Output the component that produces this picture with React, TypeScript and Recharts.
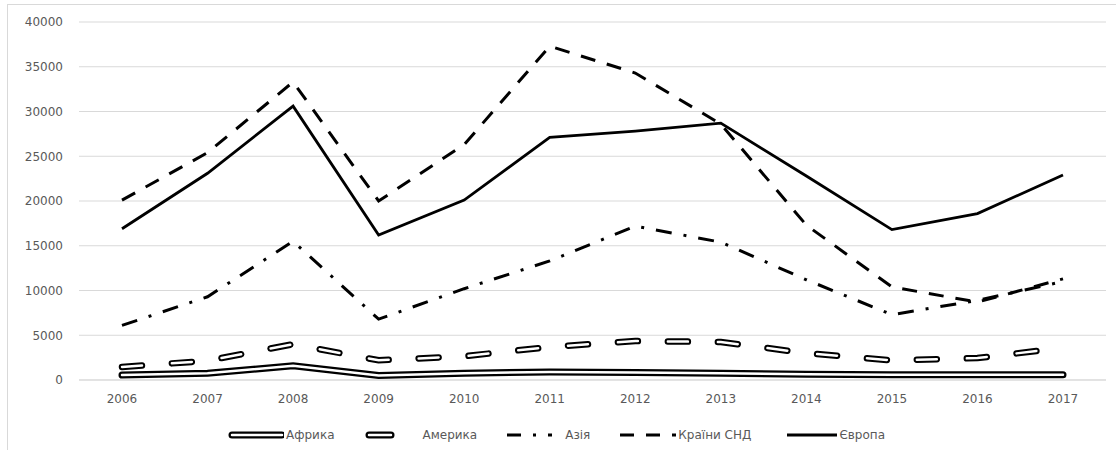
import { LineChart, Line, XAxis, YAxis, CartesianGrid, Legend } from "recharts";

const years = ["2006", "2007", "2008", "2009", "2010", "2011", "2012", "2013", "2014", "2015", "2016", "2017"];
const afrika = [550, 750, 1600, 500, 750, 900, 850, 750, 650, 600, 600, 600];
const amerika = [1450, 2150, 4000, 2200, 2650, 3700, 4350, 4250, 3000, 2200, 2450, 3600];
const aziya = [6100, 9300, 15500, 6800, 10200, 13300, 17200, 15400, 11200, 7300, 8900, 11000];
const snd = [20100, 25400, 33300, 20000, 26300, 37300, 34300, 28600, 17300, 10400, 8700, 11300];
const yevropa = [16900, 23100, 30600, 16200, 20100, 27100, 27800, 28700, 22800, 16800, 18600, 22900];
const yTicks = [0, 5000, 10000, 15000, 20000, 25000, 30000, 35000, 40000];

const data = years.map((year, i) => ({
    year,
    afrika: afrika[i],
    amerika: amerika[i],
    aziya: aziya[i],
    snd: snd[i],
    yevropa: yevropa[i],
}));

const font = "'DejaVu Sans', sans-serif";
const tickStyle = { fill: "#595959", fontSize: 12, fontFamily: font };

// legend icons, 56px wide, drawn like the series
function Icon({ kind }: { kind: string }) {
    const y = 8;
    if (kind === "afrika") {
        return (
            <svg width={56} height={16}>
                <line x1={4} x2={54} y1={y} y2={y} stroke="#000" strokeWidth={7} strokeLinecap="round" />
                <line x1={4} x2={54} y1={y} y2={y} stroke="#fff" strokeWidth={2.5} strokeLinecap="round" />
            </svg>
        );
    }
    if (kind === "amerika") {
        return (
            <svg width={56} height={16}>
                <line x1={4} x2={26} y1={y} y2={y} stroke="#000" strokeWidth={7} strokeLinecap="round" />
                <line x1={4} x2={26} y1={y} y2={y} stroke="#fff" strokeWidth={2.5} strokeLinecap="round" />
            </svg>
        );
    }
    if (kind === "aziya") {
        return (
            <svg width={56} height={16}>
                <line x1={0} x2={56} y1={y} y2={y} stroke="#000" strokeWidth={3} strokeDasharray="14 12 3 12 4" />
            </svg>
        );
    }
    if (kind === "snd") {
        return (
            <svg width={56} height={16}>
                <line x1={0} x2={56} y1={y} y2={y} stroke="#000" strokeWidth={3} strokeDasharray="14 12" />
            </svg>
        );
    }
    return (
        <svg width={56} height={16}>
            <line x1={6} x2={56} y1={y} y2={y} stroke="#000" strokeWidth={3} />
        </svg>
    );
}

const legendItems = [
    { kind: "afrika", label: "Африка" },
    { kind: "amerika", label: "Америка" },
    { kind: "aziya", label: "Азія" },
    { kind: "snd", label: "Країни СНД" },
    { kind: "yevropa", label: "Європа" },
];

function CustomLegend() {
    return (
        <div style={{ height: 30, display: "flex", alignItems: "center", paddingLeft: 228, fontFamily: font, fontSize: 12, color: "#595959" }}>
            {legendItems.map((item) => (
                <div key={item.kind} style={{ display: "flex", alignItems: "center", marginRight: 30 }}>
                    <Icon kind={item.kind} />
                    <span style={{ marginLeft: 2 }}>{item.label}</span>
                </div>
            ))}
        </div>
    );
}

export default function App() {
    return (
        <div style={{ position: "absolute", left: 0, top: 0, width: 1116, height: 450, overflow: "hidden", background: "#fff" }}>
            <div style={{ position: "absolute", left: 7, top: 4, width: 1200, height: 500, borderLeft: "1px solid #d9d9d9", borderTop: "1px solid #d9d9d9" }} />
            <LineChart width={1116} height={450} data={data} margin={{ top: 22, right: 10, bottom: 0, left: 0 }}>
                <CartesianGrid horizontal vertical={false} stroke="#d9d9d9" />
                <XAxis
                    dataKey="year"
                    tickLine={false}
                    axisLine={{ stroke: "#d9d9d9" }}
                    tick={tickStyle}
                    tickMargin={8}
                    height={40}
                    padding={{ left: 43, right: 43 }}
                />
                <YAxis
                    domain={[0, 40000]}
                    ticks={yTicks}
                    tickLine={false}
                    axisLine={false}
                    tick={tickStyle}
                    tickMargin={10}
                    width={79}
                />
                <Legend verticalAlign="bottom" content={CustomLegend} />

                <Line dataKey="afrika" stroke="#000" strokeWidth={7} strokeLinecap="round" dot={false} activeDot={false} isAnimationActive={false} />
                <Line dataKey="afrika" stroke="#fff" strokeWidth={2.5} strokeLinecap="round" dot={false} activeDot={false} isAnimationActive={false} />
                <Line dataKey="amerika" stroke="#000" strokeWidth={6.5} strokeDasharray="20 30" strokeLinecap="round" dot={false} activeDot={false} isAnimationActive={false} />
                <Line dataKey="amerika" stroke="#fff" strokeWidth={2.5} strokeDasharray="20 30" strokeLinecap="round" dot={false} activeDot={false} isAnimationActive={false} />
                <Line dataKey="aziya" stroke="#000" strokeWidth={3} strokeDasharray="16 12 3 12" dot={false} activeDot={false} isAnimationActive={false} />
                <Line dataKey="snd" stroke="#000" strokeWidth={3} strokeDasharray="15 12" dot={false} activeDot={false} isAnimationActive={false} />
                <Line dataKey="yevropa" stroke="#000" strokeWidth={2.8} dot={false} activeDot={false} isAnimationActive={false} />
            </LineChart>
        </div>
    );
}
